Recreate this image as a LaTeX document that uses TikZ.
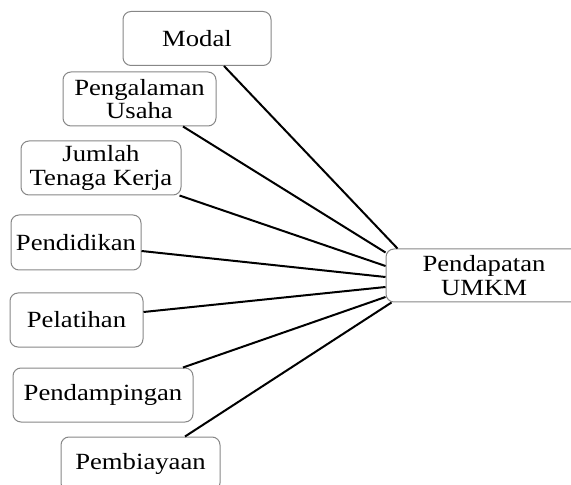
\documentclass[tikz,border=0pt]{standalone}
\usepackage{fontspec}
\usepackage{tikz}
\usetikzlibrary{positioning, calc}
\newfontfamily\boxfont[FakeStretch=1.15]{Liberation Serif}
\definecolor{boxgray}{RGB}{135,135,135}

\begin{document}
\begin{tikzpicture}[
    x=0.5pt, y=-0.5pt,
    factor/.style={rectangle, rounded corners=4pt, draw=boxgray, line width=0.5pt, fill=white,
        align=center, inner sep=0pt, minimum height=27pt,
        font=\boxfont\fontsize{11.6}{11.6}\selectfont},
    link/.style={line width=1pt, black}
]
\useasboundingbox (0,0) rectangle (571,485);

% Boxes
\node[factor, minimum width=74pt] (modal) at (197,38.5) {Modal};
\node[factor, minimum width=76.5pt] (pengalaman) at (139.5,99) {Pengalaman\\Usaha};
\node[factor, minimum width=80pt] (jumlah) at (101,168) {Jumlah\\Tenaga Kerja};
\node[factor, minimum width=65pt, minimum height=27.5pt] (pendidikan) at (76,242.5) {Pendidikan};
\node[factor, minimum width=66.5pt] (pelatihan) at (76.5,320) {Pelatihan};
\node[factor, minimum width=90pt] (pendampingan) at (103,395) {Pendampingan};
\node[factor, minimum width=79.5pt] (pembiayaan) at (140.5,464) {Pembiayaan};
\node[factor, minimum width=98pt, minimum height=26.5pt] (pendapatan) at (484,275.5) {Pendapatan\\UMKM};

% Connections
\draw[link] ($(modal.south)+(27,0)$) -- ($(pendapatan.north west)+(12,0)$);
\draw[link] ($(pengalaman.south)+(43.5,0)$) -- ($(pendapatan.north west)+(0,4)$);
\draw[link] ($(jumlah.south east)+(-2,0)$) -- ($(pendapatan.west)+(0,-9.5)$);
\draw[link] ($(pendidikan.east)+(0,8.5)$) -- ($(pendapatan.west)+(0,1.5)$);
\draw[link] ($(pelatihan.east)+(0,-8)$) -- ($(pendapatan.west)+(0,11.5)$);
\draw[link] ($(pendampingan.north)+(80,0)$) -- ($(pendapatan.west)+(0,21.5)$);
\draw[link] ($(pembiayaan.north)+(44.5,0)$) -- ($(pendapatan.south west)+(6,0)$);

\end{tikzpicture}
\end{document}
